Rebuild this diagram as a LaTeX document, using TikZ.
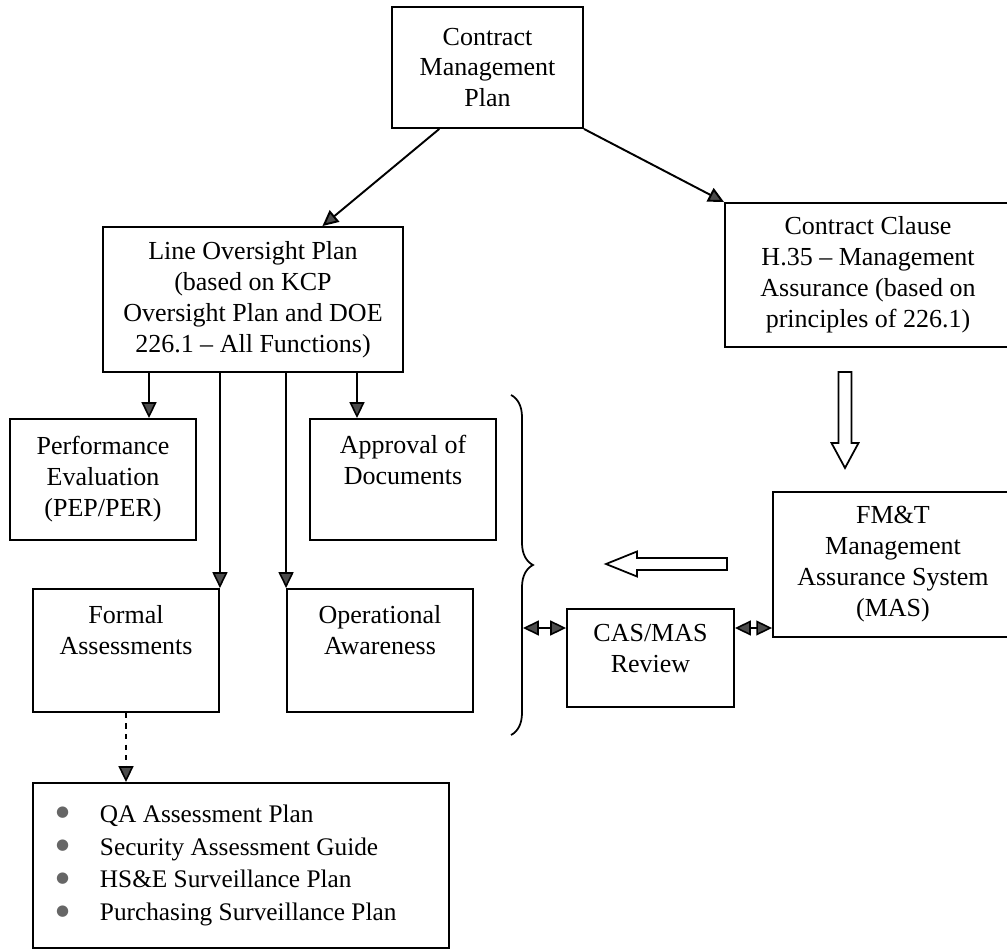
\documentclass[tikz,border=0pt]{standalone}
\usepackage{fontspec}
\setmainfont{Liberation Serif}
\newfontfamily\symfont{DejaVu Sans}
\usetikzlibrary{arrows.meta,calc,decorations.pathreplacing}
\newcommand{\itm}[1]{\makebox[25pt][l]{\raisebox{3pt}{\textcolor{black!60}{\symfont\fontsize{8.5}{8.5}\selectfont ●}}}#1}

\begin{document}
\begin{tikzpicture}[x=0.02cm, y=-0.02cm,
    box/.style={draw, line width=1.1pt, inner sep=0pt, align=center,
        font=\fontsize{14.8}{17.6}\selectfont},
    conn/.style={line width=0.9pt},
    >={Triangle[length=9pt, width=8.5pt, fill=black!70]}]
    \useasboundingbox (0,0) rectangle (1007,952);
    \clip (0,0) rectangle (1007,952);

    % boxes
    \node[box, minimum width=3.82cm, minimum height=2.42cm] (cmp) at (487.5,67.5) {Contract\\Management\\Plan};
    \node[box, minimum width=6cm, minimum height=2.9cm] (lop) at (253,299.5)
        {Line Oversight Plan\\(based on KCP\\Oversight Plan and DOE\\226.1 -- All Functions)};
    \node[box, minimum width=5.72cm, minimum height=2.88cm] (clause) at (868,275)
        {Contract Clause\\H.35 -- Management\\Assurance (based on\\principles of 226.1)};
    \node[box, minimum width=3.72cm, minimum height=2.42cm] (perf) at (103,479.5) {Performance\\Evaluation\\(PEP/PER)};
    \node[box, minimum width=3.72cm, minimum height=2.42cm] (appr) at (403,479.5) {Approval of\\Documents\\\strut};
    \node[box, minimum width=3.72cm, minimum height=2.46cm] (formal) at (126,650.5) {Formal\\Assessments\\\strut};
    \node[box, minimum width=3.72cm, minimum height=2.46cm] (oper) at (380,650.5) {Operational\\Awareness\\\strut};
    \node[box, minimum width=4.8cm, minimum height=2.9cm] (fmt) at (893,564.5)
        {FM\&T\\Management\\Assurance System\\(MAS)};
    \node[box, minimum width=3.34cm, minimum height=1.96cm] (cas) at (650.5,658) {CAS/MAS\\Review\\[-12pt]\strut};
    \node[box, minimum width=8.32cm, minimum height=3.3cm, inner xsep=13pt, text width=7.4cm, align=flush left,
        font=\fontsize{14.4}{18.7}\selectfont] (plans) at (241,865.5)
        {\itm{QA Assessment Plan}\\\itm{Security Assessment Guide}\\\itm{HS\&E Surveillance Plan}\\\itm{Purchasing Surveillance Plan}};

    % connectors
    \draw[line width=1.1pt, ->] ($(cmp.south west)!.25!(cmp.south east)$) -- ($(lop.north west)!.73!(lop.north east)$);
    \draw[line width=1.1pt, ->] (cmp.south east) -- (clause.north west);
    \draw[conn, ->] (lop.south -| 149,0) -- (perf.north -| 149,0);
    \draw[conn, ->] (lop.south -| 357,0) -- (appr.north -| 357,0);
    \draw[conn, ->] (lop.south -| formal.north east) -- (formal.north east);
    \draw[conn, ->] (lop.south -| oper.north west) -- (oper.north west);
    \draw[conn, dashed, ->] (formal.south) -- (formal.south |- plans.north);

    % brace and review links
    \draw[line width=1pt, decorate, decoration={brace, amplitude=0.44cm}] (511,395) -- (511,735);
    \coordinate (brc) at (523,628);
    \draw[conn, <->] (brc) -- (cas.west |- brc);
    \draw[conn, <->] (cas.east |- brc) -- (fmt.west |- brc);

    % hollow arrows
    \draw[line width=1pt] (838.5,372) -- (851.5,372) -- (851.5,443) -- (858.5,443) -- (845,468)
        -- (831.5,443) -- (838.5,443) -- cycle;
    \draw[line width=1pt] (727,558) -- (727,570) -- (637,570) -- (637,576.5) -- (606,564)
        -- (637,551.5) -- (637,558) -- cycle;
\end{tikzpicture}
\end{document}
